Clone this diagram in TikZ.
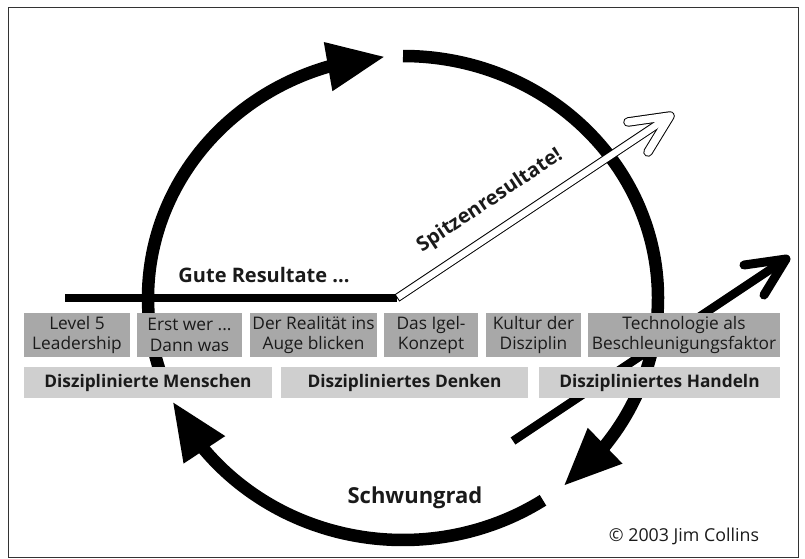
\documentclass[tikz,border=0pt]{standalone}
\usepackage{fontspec}
\setmainfont{Open Sans}
\usetikzlibrary{arrows.meta,bending}
\definecolor{boxdark}{HTML}{A8A8A8}
\definecolor{boxlight}{HTML}{CFCFCF}
\definecolor{txt}{HTML}{1A1A1A}
\begin{document}
\begin{tikzpicture}[x=1pt,y=-1pt,
  wheel/.style={line width=12.5pt, -{Triangle[length=58pt,width=46pt]}},
  darkbox/.style={fill=boxdark, text=txt, inner sep=0pt, minimum height=44pt, align=center, font=\fontsize{17.3}{20.5}\selectfont},
  lightbox/.style={fill=boxlight, text=txt, inner sep=0pt, minimum height=31pt, font=\bfseries\fontsize{17.3}{20}\selectfont},
  lbl/.style={font=\bfseries\fontsize{20}{24}\selectfont, text=txt}]
\useasboundingbox (0,0) rectangle (805,558);
\draw[line width=1pt, black!80] (8,7) rectangle (798,557);

% diagonal black arrow (behind boxes)
\coordinate (dA) at (513,441);
\coordinate (dT) at (786,259);
\coordinate (dB1) at (744,265);
\coordinate (dB2) at (764,295);
\draw[line width=8.5pt] (dA) -- (dT);
\draw[line width=9pt, line cap=round, line join=round] (dB1) -- (dT) -- (dB2);

% flywheel arcs
\coordinate (c) at (403,298);
\draw[wheel] ([shift={(199:255pt and 242pt)}]c) arc[start angle=199, end angle=94, x radius=255pt, y radius=242pt];
\draw[wheel] ([shift={(90:255pt and 242pt)}]c) arc[start angle=90, end angle=-51, x radius=255pt, y radius=242pt];
\draw[wheel] ([shift={(-56.7:255pt and 242pt)}]c) arc[start angle=-56.7, end angle=-154.7, x radius=255pt, y radius=242pt];

% boxes
\node[darkbox, minimum width=106pt] (b1) at (77,335) {Level 5\\Leadership};
\node[darkbox, minimum width=105pt] (b2) at (189.5,335) {Erst wer ...\\Dann was};
\node[darkbox, minimum width=127pt] (b3) at (313.5,335) {Der Realität ins\\Auge blicken};
\node[darkbox, minimum width=94pt] (b4) at (431,335) {Das Igel-\\Konzept};
\node[darkbox, minimum width=95pt] (b5) at (533.5,335) {Kultur der\\Disziplin};
\node[darkbox, minimum width=192pt] (b6) at (684,335) {Technologie als\\Beschleunigungsfaktor};
\node[lightbox, minimum width=248pt] (c1) at (148,382.5) {Disziplinierte Menschen};
\node[lightbox, minimum width=247pt] (c2) at (404.5,382.5) {Diszipliniertes Denken};
\node[lightbox, minimum width=241pt] (c3) at (659.5,382.5) {Diszipliniertes Handeln};

% good results line and white arrow
\coordinate (g0) at (65,298);
\coordinate (g1) at (397,298);
\coordinate (wT) at (670,116);
\coordinate (wB1) at (628,122);
\coordinate (wB2) at (648,152);
\draw[line width=8pt] (g0) -- (g1);
\draw[line width=8.5pt] (g1) -- (wT);
\draw[line width=9.5pt, line cap=round, line join=round] (wB1) -- (wT) -- (wB2);
\draw[white, line width=6.5pt, shorten <=1pt] (g1) -- (wT);
\draw[white, line width=7.5pt, line cap=round, line join=round] (wB1) -- (wT) -- (wB2);

% labels
\node[lbl, rotate=33.7] (sp) at (490,201) {Spitzenresultate!};
\node[lbl] (gr) at (264,275) {Gute Resultate ...};
\node[lbl, font=\bfseries\fontsize{22}{26}\selectfont] (sw) at (415,498) {Schwungrad};
\node[text=txt, font=\fontsize{17.8}{21}\selectfont] (cp) at (684,536) {© 2003 Jim Collins};
\end{tikzpicture}
\end{document}
